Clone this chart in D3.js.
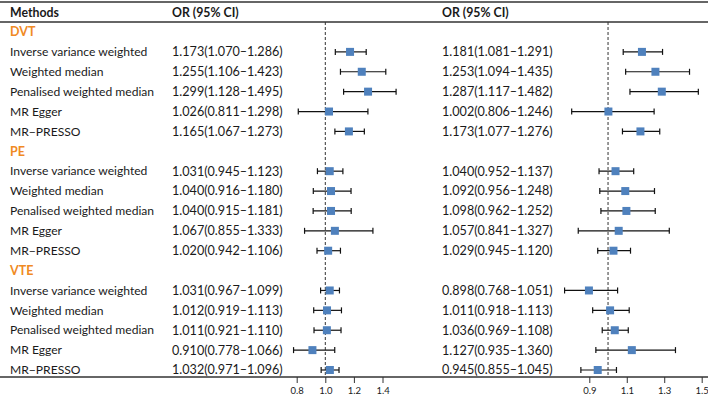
<!DOCTYPE html>
<html>
<head>
<meta charset="utf-8">
<script src="https://cdn.jsdelivr.net/npm/d3@7"></script>
<style>
body { margin:0; background:#fff; }
svg text { font-family: Lato, "Open Sans", sans-serif; fill:#1a1a1a; }
</style>
</head>
<body>
<svg id="graph"></svg>
<script>
// groups and methods
let groups = ["DVT","PE","VTE"];
let methods = ["Inverse variance weighted","Weighted median","Penalised weighted median","MR Egger","MR\u2212PRESSO"];

// left panel: OR, lower, upper (per group, per method)
let leftOR = [1.173,1.255,1.299,1.026,1.165, 1.031,1.040,1.040,1.067,1.020, 1.031,1.012,1.011,0.910,1.032];
let leftLo = [1.070,1.106,1.128,0.811,1.067, 0.945,0.916,0.915,0.855,0.942, 0.967,0.919,0.921,0.778,0.971];
let leftHi = [1.286,1.423,1.495,1.298,1.273, 1.123,1.180,1.181,1.333,1.106, 1.099,1.113,1.110,1.066,1.096];

// right panel
let rightOR = [1.181,1.253,1.287,1.002,1.173, 1.040,1.092,1.098,1.057,1.029, 0.898,1.011,1.036,1.127,0.945];
let rightLo = [1.081,1.094,1.117,0.806,1.077, 0.952,0.956,0.962,0.841,0.945, 0.768,0.918,0.969,0.935,0.855];
let rightHi = [1.291,1.435,1.482,1.246,1.276, 1.137,1.248,1.252,1.327,1.120, 1.051,1.113,1.108,1.360,1.045];

let leftTicks = [0.8,1.0,1.2,1.4];
let rightTicks = [0.9,1.1,1.3,1.5];

let w = 708, h = 398;
let fs = 12.1;   // method labels
let fn = 12.6;   // numbers

let graph = d3.select("#graph").attr("width",w).attr("height",h);

// build row list
let rows = [];
groups.forEach((g,gi)=>{
    rows.push({type:"group",label:g});
    methods.forEach((m,mi)=>{
        let k = gi*methods.length+mi;
        rows.push({type:"row",label:m,
            l:{or:leftOR[k],lo:leftLo[k],hi:leftHi[k]},
            r:{or:rightOR[k],lo:rightLo[k],hi:rightHi[k]}});
    });
});

let yscale = d3.scalePoint().domain(d3.range(rows.length)).range([32,370]);
let xl = d3.scaleLinear().domain([0.8,1.4]).range([296.7,382.5]);
let xr = d3.scaleLinear().domain([0.9,1.5]).range([589.3,701.7]);
let f3 = d3.format(".3f");
let lab = d=>`${f3(d.or)}(${f3(d.lo)}\u2013${f3(d.hi)})`;

// top lines
graph.append("line").attr("x1",0).attr("x2",w).attr("y1",2).attr("y2",2).attr("stroke","#333").attr("stroke-width",1.5);
graph.append("line").attr("x1",0).attr("x2",w).attr("y1",22).attr("y2",22).attr("stroke","#333").attr("stroke-width",1.5);

// header
[["Methods",10],["OR (95% CI)",172],["OR (95% CI)",442]].forEach(t=>{
    graph.append("text").text(t[0]).attr("x",t[1]).attr("y",12.5).attr("dy","0.35em")
        .style("font-size",12.3).style("font-weight","bold");
});

// reference lines
graph.append("line").attr("x1",xl(1)).attr("x2",xl(1)).attr("y1",22).attr("y2",377)
    .attr("stroke","#333").attr("stroke-dasharray","3,2");
graph.append("line").attr("x1",xr(1)).attr("x2",xr(1)).attr("y1",22).attr("y2",377)
    .attr("stroke","#333").attr("stroke-dasharray","3,2");

let rowg = graph.selectAll("g.row").data(rows).enter().append("g")
    .attr("class","row")
    .attr("transform",(d,i)=>`translate(0,${yscale(i)})`);

rowg.append("text").text(d=>d.label).attr("x",10).attr("dy","0.35em")
    .style("font-size",d=>d.type=="group"?12.5:fs)
    .style("font-weight",d=>d.type=="group"?"bold":"normal")
    .style("fill",d=>d.type=="group"?"#F08A24":"#1a1a1a");

let data = rowg.filter(d=>d.type=="row");
data.append("text").text(d=>lab(d.l)).attr("x",172).attr("dy","0.35em").style("font-size",fn);
data.append("text").text(d=>lab(d.r)).attr("x",442).attr("dy","0.35em").style("font-size",fn);

function ci(sel, x, key) {
    sel.append("line").attr("x1",d=>x(d[key].lo)).attr("x2",d=>x(d[key].hi))
        .attr("stroke","#111").attr("stroke-width",1.2);
    sel.append("line").attr("x1",d=>x(d[key].lo)).attr("x2",d=>x(d[key].lo)).attr("y1",-3).attr("y2",3)
        .attr("stroke","#111").attr("stroke-width",1.2);
    sel.append("line").attr("x1",d=>x(d[key].hi)).attr("x2",d=>x(d[key].hi)).attr("y1",-3).attr("y2",3)
        .attr("stroke","#111").attr("stroke-width",1.2);
    sel.append("rect").attr("x",d=>x(d[key].or)-4).attr("y",-4).attr("width",8).attr("height",8)
        .style("fill","#4F81BD");
}
ci(data, xl, "l");
ci(data, xr, "r");

// bottom axes
graph.append("line").attr("x1",0).attr("x2",w).attr("y1",377).attr("y2",377).attr("stroke","#333").attr("stroke-width",1.5);
let axl = d3.axisBottom(xl).tickValues(leftTicks).tickFormat(d3.format(".1f")).tickSize(6).tickPadding(4).tickSizeOuter(0);
let axr = d3.axisBottom(xr).tickValues(rightTicks).tickFormat(d3.format(".1f")).tickSize(6).tickPadding(4).tickSizeOuter(0);
[axl,axr].forEach(a=>{
    let g = graph.append("g").attr("transform","translate(0,377)").call(a);
    g.select(".domain").remove();
    g.selectAll("line").attr("stroke","#333");
    g.selectAll("text").style("font-size",9.5).style("font-family","Lato, sans-serif").attr("fill","#1a1a1a");
});
</script>
</body>
</html>
